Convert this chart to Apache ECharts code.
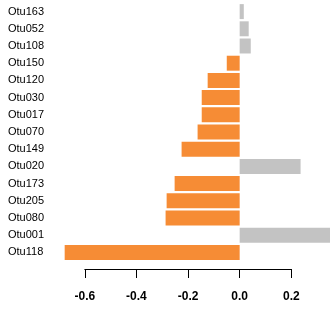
<!DOCTYPE html>
<html>
<head>
<meta charset="utf-8">
<script src="https://cdn.jsdelivr.net/npm/echarts@6/dist/echarts.min.js"></script>
<style>html,body{margin:0;padding:0;background:#fff}#c{width:330px;height:311px}</style>
</head>
<body>
<div id="c"></div>
<script>
const categories = ["Otu163","Otu052","Otu108","Otu150","Otu120","Otu030","Otu017","Otu070","Otu149","Otu020","Otu173","Otu205","Otu080","Otu001","Otu118"];
const values = [0.016, 0.035, 0.043, -0.050, -0.124, -0.147, -0.147, -0.163, -0.225, 0.236, -0.252, -0.283, -0.287, 0.35, -0.678];
const tickMin = -0.6, tickMax = 0.2, tickStep = 0.2;

const chart = echarts.init(document.getElementById('c'), null, {renderer: 'canvas'});
chart.setOption({
  animation: false,
  backgroundColor: '#ffffff',
  grid: [
    {left: 59, right: 0, top: 3, height: 258},
    {left: 84.8, width: 206.5, top: 200, bottom: 42}
  ],
  xAxis: [
    {gridIndex: 0, type: 'value', min: -0.7, max: 0.35, show: false},
    {gridIndex: 1, type: 'value', min: tickMin, max: tickMax, interval: tickStep,
     axisLine: {show: true, lineStyle: {color: '#000', width: 1}},
     axisTick: {show: true, length: 9, lineStyle: {color: '#000', width: 1}},
     splitLine: {show: false},
     axisLabel: {margin: 22, color: '#000', fontSize: 12, fontWeight: 'bold', fontFamily: 'Liberation Sans, Arial, sans-serif',
       formatter: v => v.toFixed(1)}}
  ],
  yAxis: [
    {gridIndex: 0, type: 'category', data: categories, inverse: true,
     axisLine: {show: false}, axisTick: {show: false}, splitLine: {show: false},
     axisLabel: {align: 'left', margin: 51, color: '#000', fontSize: 11, fontFamily: 'Liberation Sans, Arial, sans-serif'}},
    {gridIndex: 1, type: 'value', show: false, min: 0, max: 1}
  ],
  series: [
    {type: 'bar', xAxisIndex: 0, yAxisIndex: 0, data: values, barCategoryGap: '13%',
     itemStyle: {color: p => p.value < 0 ? '#f68c35' : '#c3c3c3'}},
    {type: 'line', xAxisIndex: 1, yAxisIndex: 1, data: []}
  ]
});
</script>
</body>
</html>
